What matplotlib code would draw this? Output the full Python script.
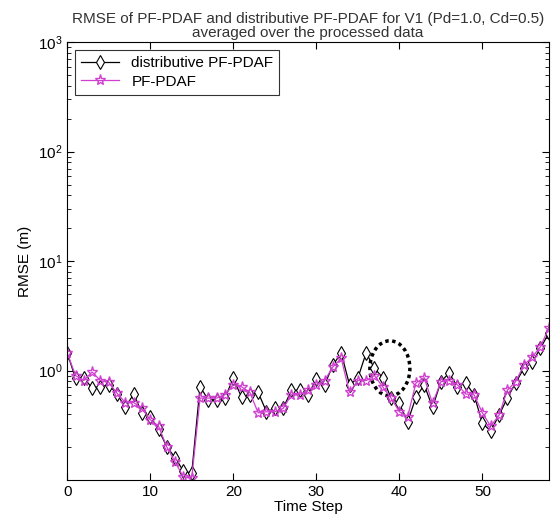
import numpy as np
import matplotlib.pyplot as plt
from matplotlib.patches import Ellipse

plt.rcParams['font.family'] = ['Liberation Sans Narrow', 'Liberation Sans', 'DejaVu Sans']

steps = np.arange(0, 59)

# distributive PF-PDAF
rmse_dist = [1.45, 0.85, 0.86, 0.69, 0.71, 0.74, 0.61, 0.46, 0.61, 0.41,
             0.38, 0.29, 0.20, 0.16, 0.12, 0.116, 0.71, 0.54, 0.54, 0.56,
             0.85, 0.57, 0.60, 0.63, 0.42, 0.45, 0.45, 0.66, 0.66, 0.60,
             0.83, 0.74, 1.12, 1.45, 0.74, 0.85, 1.45, 1.05, 0.86, 0.56,
             0.50, 0.34, 0.57, 0.74, 0.46, 0.79, 0.95, 0.71, 0.77, 0.60,
             0.33, 0.28, 0.39, 0.56, 0.77, 1.05, 1.19, 1.60, 2.20]

# PF-PDAF
rmse_pf = [1.45, 0.90, 0.81, 0.97, 0.81, 0.78, 0.62, 0.51, 0.51, 0.45,
           0.355, 0.31, 0.20, 0.146, 0.106, 0.104, 0.56, 0.56, 0.56, 0.60,
           0.74, 0.71, 0.63, 0.41, 0.42, 0.42, 0.45, 0.60, 0.60, 0.66,
           0.74, 0.81, 1.08, 1.29, 0.63, 0.81, 0.81, 0.90, 0.71, 0.56,
           0.42, 0.38, 0.77, 0.86, 0.50, 0.79, 0.81, 0.74, 0.61, 0.60,
           0.41, 0.31, 0.39, 0.66, 0.79, 1.12, 1.33, 1.65, 2.45]

fig = plt.figure(figsize=(5.6, 5.28), dpi=100)
ax = fig.add_axes([0.12, 0.091, 0.86, 0.829])

ax.semilogy(steps, rmse_dist, color='black', lw=0.9, marker='d', ms=7,
            mfc='white', mec='black', mew=0.8, label='distributive PF-PDAF')
ax.semilogy(steps, rmse_pf, color='#d040d0', lw=0.9, marker='*', ms=8,
            mfc='none', mec='#d040d0', mew=1.0, label='PF-PDAF')

ax.set_xlim(0, 58)
ax.set_ylim(0.1, 1000)
ax.set_xticks([0, 10, 20, 30, 40, 50])
ax.set_yticks([1, 10, 100, 1000])
ax.tick_params(which='both', direction='in', top=True, right=True, labelsize=11)
ax.tick_params(which='major', length=5)
ax.tick_params(which='minor', length=3)

ax.set_xlabel('Time Step', fontsize=11, labelpad=1)
ax.set_ylabel('RMSE (m)', fontsize=11)
ax.set_title('RMSE of PF-PDAF and distributive PF-PDAF for V1 (Pd=1.0, Cd=0.5)\n'
             'averaged over the processed data', fontsize=11, linespacing=1.0,
             pad=4, color='#333333')

leg = ax.legend(loc='upper left', fontsize=11, frameon=True, fancybox=False,
                edgecolor='black', handlelength=2.5, borderaxespad=0.5,
                labelspacing=0.3)
leg.get_frame().set_linewidth(0.8)

# dotted ellipse highlighting the region around step 38-39
ell = Ellipse((0.67, 0.255), 0.083, 0.126, transform=ax.transAxes,
              fill=False, ls=(0, (1, 1)), lw=2.5, color='black')
ax.add_patch(ell)

fig.savefig('out.png', dpi=100)
